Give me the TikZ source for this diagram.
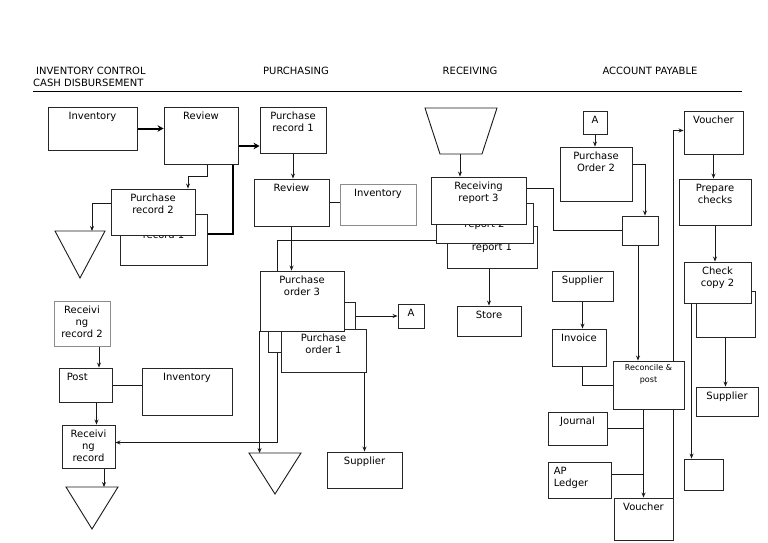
\documentclass[tikz,border=0pt]{standalone}
\usepackage{fontspec}
\setmainfont{DejaVu Sans}
\usetikzlibrary{arrows.meta,backgrounds}
\newcommand{\ft}{\fontsize{10}{12.3}\selectfont}
\newcommand{\sm}{\fontsize{8}{12}\selectfont}

\tikzset{
  box/.style={draw=black!85, fill=white, line width=0.9pt, inner sep=0pt},
  gbox/.style={box, draw=black!45},
  sz/.style 2 args={minimum width=#1pt, minimum height=#2pt},
  txt/.style={anchor=north, align=center, inner sep=5pt, font=\ft},
  head/.style={inner sep=0pt, font=\ft},
  conn/.style={line width=0.9pt, draw=black!90},
  fat/.style={line width=2pt, draw=black, -{Stealth[length=6pt,width=6.5pt]}},
}

\begin{document}
\begin{tikzpicture}[x=1pt, y=-1pt, >={Stealth[length=5pt,width=4pt]}]
   \useasboundingbox (0,0) rectangle (768,543);

   % headings
   \node[head, anchor=west] (hinv) at (36,71) {INVENTORY CONTROL};
   \node[head, anchor=west] (hcash) at (33,83) {CASH DISBURSEMENT};
   \node[head] (hpur) at (296,71) {PURCHASING};
   \node[head] (hrec) at (470,71) {RECEIVING};
   \node[head] (hap) at (650,71) {ACCOUNT PAYABLE};
   \draw[line width=0.9pt] (33,91) -- (742,91);

   % inventory control / cash disbursement
   \node[box, sz={89}{43}, label={[txt]north:Inventory}] (inv1) at (92.5,128.5) {};
   \node[box, sz={74}{57}, label={[txt]north:Review}] (rev1) at (201,135.5) {};
   \node[box, sz={87}{51}, label={[txt]north:{Purchase\\record 1}}] (prc1b) at (163.5,239.5) {};
   \node[box, sz={84}{46}, label={[txt]north:{Purchase\\record 2}}] (prc2) at (153,212) {};
   \draw[conn] (55,231) -- (105,231) -- (80,278) -- cycle;
   \coordinate (tri1a) at (92,231);
   \node[gbox, sz={56}{45}, label={[txt]north:{Receivi\\ng\\record 2}}] (rr2) at (82,323.5) {};
   \node[box, sz={53}{34}, label={[txt, anchor=north west, xshift=3pt]north west:Post}] (post) at (85.5,385) {};
   \node[box, sz={90}{47}, label={[txt]north:Inventory}] (inv2) at (187,391.5) {};
   \node[box, sz={53}{43}, label={[txt]north:{Receivi\\ng\\record}}] (rrec) at (88.5,446.5) {};
   \draw[conn] (66,487) -- (118,487) -- (92,529) -- cycle;
   \coordinate (tri2a) at (104,487);

   % purchasing
   \node[box, sz={66}{46}, label={[txt]north:{Purchase\\record 1}}] (prp1) at (293,130) {};
   \node[box, sz={75}{47}, label={[txt]north:Review}] (rev2) at (291.5,202.5) {};
   \node[gbox, sz={76}{41}, label={[txt]north:Inventory}] (inv3) at (378,204.5) {};
   \node[box, sz={87}{50}] (po2b) at (311.5,327) {};
   \node[box, sz={85}{43}, label={[txt]north:{Purchase\\order 1}}] (po1) at (323.5,350.5) {};
   \node[box, sz={84}{60}, label={[txt]north:{Purchase\\order 3}}] (po3) at (302,301) {};
   \node[box, sz={26}{24}, label={[txt]north:A}] (a1) at (411,316) {};
   \node[box, sz={75}{36}, label={[txt]north:Supplier}] (sup1) at (364.5,470) {};
   \draw[conn] (249,453) -- (301,453) -- (275,494) -- cycle;
   \coordinate (tri3a) at (260,453);

   % receiving
   \draw[conn] (425,108) -- (497,108) -- (482,154) -- (440,154) -- cycle;
   \coordinate (trapb) at (460,154);
   \node[box, sz={90}{42}, label={[txt]north:{Receiving\\report 1}}] (rp1) at (492,247) {};
   \node[box, sz={97}{40}, label={[txt]north:{Receiving\\report 2}}] (rp2) at (484.5,223) {};
   \node[box, sz={95}{47}, label={[txt]north:{Receiving\\report 3}}] (rp3) at (478.5,200.5) {};
   \node[box, sz={64}{30}, label={[txt]north:Store}] (store) at (489,321) {};

   % account payable
   \node[box, sz={24}{23}, label={[txt]north:A}] (a2) at (595,122.5) {};
   \node[box, sz={72}{54}, label={[txt]north:{Purchase\\Order 2}}] (po2) at (596,174) {};
   \node[box, sz={36}{29}] (sq1) at (640,230.5) {};
   \node[box, sz={61}{30}, label={[txt]north:Supplier}] (sup2) at (582.5,286) {};
   \node[box, sz={54}{37}, label={[txt]north:Invoice}] (invc) at (579,347.5) {};
   \node[box, sz={71}{48}, label={[txt, inner sep=4pt, font=\sm]north:{Reconcile \&\\post}}] (rec) at (648.5,385) {};
   \node[box, sz={59}{33}, label={[txt]north:Journal}] (jour) at (577.5,428.5) {};
   \node[box, sz={63}{36}, label={[txt, anchor=north west, align=left, xshift=1pt]north west:{AP\\Ledger}}] (apl) at (579.5,480) {};
   \node[box, sz={59}{42}, label={[txt]north:Voucher}] (vou2) at (643.5,519) {};
   \node[box, sz={59}{43}, label={[txt]north:Voucher}] (vou1) at (713.5,132.5) {};
   \node[box, sz={72}{46}, label={[txt]north:{Prepare\\checks}}] (prep) at (715,202) {};
   \node[box, sz={59}{46}] (chk1) at (725.5,314) {};
   \node[box, sz={67}{41}, label={[txt]north:{Check\\copy 2}}] (chk2) at (717.5,282.5) {};
   \node[box, sz={62}{29}, label={[txt]north:Supplier}] (sup3) at (727,401.5) {};
   \node[box, sz={39}{31}] (sq2) at (703.5,474.5) {};

   \begin{scope}[on background layer]
   % flows
   \draw[fat] (inv1.east) -- (inv1.east -| rev1.west);
   \draw[conn,->] ([xshift=6pt]rev1.south) -- ++(0,12) -| ([xshift=35pt]prc2.north);
   \draw[conn,->] ([yshift=9pt]prc2.west) -| (tri1a);
   \draw[fat] ([yshift=6pt]prc1b.east) -- ++(26,0) |- ([yshift=-16pt]prp1.west);
   \draw[conn,->] ([xshift=17pt]rr2.south) -- ([xshift=17pt]rr2.south |- post.north);
   \draw[conn] (post.east) -- (post.east -| inv2.west);
   \draw[conn,->] ([xshift=11pt]post.south) -- ([xshift=11pt]post.south |- rrec.north);
   \draw[conn,->] ([xshift=15.5pt]rrec.south) -- (tri2a);

   \draw[conn,->] (prp1.south) -- (prp1.south |- rev2.north);
   \draw[conn] (rev2.east) -- (rev2.east -| inv3.west);
   \draw[conn,->] (rev2.south) -- (rev2.south |- po3.north);
   \draw[conn,->] ([yshift=-17pt]rp2.west) -- ++(-158,0) |- ([yshift=4pt]rrec.east);
   \draw[conn,->] (po3.south west) -- (po3.south west |- tri3a);
   \draw[conn,->] (a1.west -| po2b.east) -- (a1.west);
   \draw[conn,->] (sup1.north |- po1.south) -- (sup1.north);

   \draw[conn,->] (trapb) -- (trapb |- rp3.north);
   \draw[conn,->] (store.north |- rp1.south) -- (store.north);
   \draw[conn] ([yshift=12pt]rp3.east) -- ++(27,0) |- (sq1.west);

   \draw[conn,->] (a2.south) -- (a2.south |- po2.north);
   \draw[conn,->] ([yshift=10pt]po2.east) -| ([xshift=5pt]sq1.north);
   \draw[conn,->] ([xshift=-2pt]sq1.south) -- ([xshift=-2pt]sq1.south |- rec.north);
   \draw[conn,->] (sup2.south) -- (sup2.south |- invc.north);
   \draw[conn] ([xshift=3pt]invc.south) |- (rec.west);
   \draw[conn,->] (rec.south -| vou2.north) -- (vou2.north);
   \draw[conn] (jour.east) -- (jour.east -| vou2.north);
   \draw[conn] ([yshift=6pt]apl.east) -- ([yshift=6pt]apl.east -| vou2.north);
   \draw[conn,->] (vou2.north east) |- ([yshift=2pt]vou1.west);
   \draw[conn,->] (vou1.south) -- (vou1.south |- prep.north);
   \draw[conn,->] (prep.south) -- (prep.south |- chk2.north);
   \draw[conn,->] (chk1.south) -- (chk1.south |- sup3.north);
   \draw[conn,->] ([xshift=8pt]chk2.south west) -- ([xshift=8pt]chk2.south west |- sq2.north);
   \end{scope}
  \end{tikzpicture}
\end{document}
